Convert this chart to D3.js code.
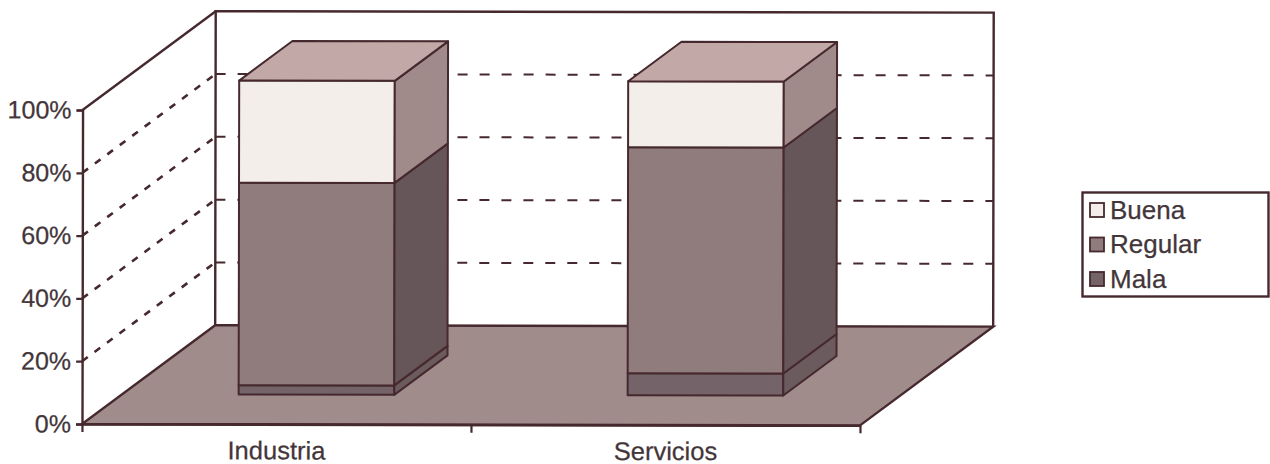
<!DOCTYPE html>
<html>
<head>
<meta charset="utf-8">
<script src="https://cdn.jsdelivr.net/npm/d3@7"></script>
<style>
  html, body { margin: 0; padding: 0; background: #fff; }
  svg { display: block; }
  text { font-family: "Liberation Sans", Arial, sans-serif; fill: #43363a; stroke: #43363a; stroke-width: 0.25px; }
</style>
</head>
<body>
<svg id="chart" width="1270" height="464"></svg>
<script>
const categories = ['Industria', 'Servicios'];
const seriesNames = ['Mala', 'Regular', 'Buena'];
const mala = [3, 7];
const regular = [64.5, 72];
const buena = [32.5, 21];
const yTicks = [0, 20, 40, 60, 80, 100];

const frontColors = { Mala: '#75636a', Regular: '#917c7d', Buena: '#f3eeea' };
const sideColors = { Mala: '#6b5a5e', Regular: '#665659', Buena: '#a08a8a' };
const topColor = '#c3a8a8';
const floorColor = '#a08c8b';
const lineColor = '#46292e';

const rows = categories.map((c, i) => ({ category: c, Mala: mala[i], Regular: regular[i], Buena: buena[i] }));
const stacked = d3.stack().keys(seriesNames)(rows);

const x = d3.scaleBand().domain(categories).range([82, 860]).paddingInner(0.6).paddingOuter(0.3);
const y = d3.scaleLinear().domain([0, 100]).range([424, 110]);
// depth axis: 0 is the front edge, 1 the back wall
const depthX = d3.scaleLinear().domain([0, 1]).range([0, 133]);
const depthY = d3.scaleLinear().domain([0, 1]).range([0, -99]);
const barDepth = [0.3, 0.7];

// px is already a screen x, v a percentage, z a depth
const project = (px, v, z) => [px + depthX(z), y(v) + depthY(z)];
const path = d3.line();

const svg = d3.select('#chart');
const plot = svg.append('g').attr('transform', 'rotate(0.1 82 424)');

const left = x.range()[0];
const right = x.range()[1];

// floor
plot.append('path')
  .attr('d', path([project(left, 0, 0), project(right, 0, 0), project(right, 0, 1), project(left, 0, 1)]) + 'Z')
  .attr('fill', floorColor)
  .attr('stroke', lineColor)
  .attr('stroke-width', 2.4);

// back wall and side wall outline
plot.append('path')
  .attr('d', path([project(left, 0, 1), project(left, 100, 1), project(right, 100, 1), project(right, 0, 1)]))
  .attr('fill', 'none')
  .attr('stroke', lineColor)
  .attr('stroke-width', 2.4);
plot.append('path')
  .attr('d', path([project(left, 100, 0), project(left, 100, 1)]))
  .attr('fill', 'none')
  .attr('stroke', lineColor)
  .attr('stroke-width', 2.4);

// grid lines
const gridTicks = yTicks.filter(d => d > 0 && d < 100);
plot.selectAll('.side-grid').data(gridTicks).join('path')
  .attr('class', 'side-grid')
  .attr('d', d => path([project(left, d, 0), project(left, d, 1)]))
  .attr('fill', 'none')
  .attr('stroke', lineColor)
  .attr('stroke-width', 2.6)
  .attr('stroke-dasharray', '7 8.5');
plot.selectAll('.back-grid').data(gridTicks).join('path')
  .attr('class', 'back-grid')
  .attr('d', d => path([project(left, d, 1), project(right, d, 1)]))
  .attr('fill', 'none')
  .attr('stroke', lineColor)
  .attr('stroke-width', 2)
  .attr('stroke-dasharray', '10 12');

// bars, bottom segment first
const bars = plot.append('g')
  .attr('stroke', lineColor)
  .attr('stroke-width', 2)
  .attr('stroke-linejoin', 'round');

stacked.forEach(layer => {
  layer.forEach(seg => {
    const cat = seg.data.category;
    const x0 = x(cat);
    const x1 = x0 + x.bandwidth();
    const [z0, z1] = barDepth;
    bars.append('path')
      .attr('d', path([project(x0, seg[0], z0), project(x1, seg[0], z0), project(x1, seg[1], z0), project(x0, seg[1], z0)]) + 'Z')
      .attr('fill', frontColors[layer.key]);
    bars.append('path')
      .attr('d', path([project(x1, seg[0], z0), project(x1, seg[0], z1), project(x1, seg[1], z1), project(x1, seg[1], z0)]) + 'Z')
      .attr('fill', sideColors[layer.key]);
    if (layer.key === 'Buena') {
      bars.append('path')
        .attr('d', path([project(x0, seg[1], z0), project(x1, seg[1], z0), project(x1, seg[1], z1), project(x0, seg[1], z1)]) + 'Z')
        .attr('fill', topColor);
    }
  });
});

// y axis
const yAxis = plot.append('g')
  .attr('transform', `translate(${left},0)`)
  .call(d3.axisLeft(y).tickValues(yTicks).tickFormat(d => d + '%').tickSize(6).tickPadding(5));
yAxis.select('.domain').attr('stroke', lineColor).attr('stroke-width', 2.4);
yAxis.selectAll('.tick line').attr('stroke', lineColor).attr('stroke-width', 2.2);
yAxis.selectAll('text').attr('font-size', 25);

// x axis: ticks sit on the category boundaries, labels between them
const xEdges = d3.scaleLinear().domain([0, categories.length]).range(x.range());
const xAxis = plot.append('g')
  .attr('transform', `translate(0,${y(0)})`)
  .call(d3.axisBottom(xEdges).tickValues(d3.range(categories.length + 1)).tickFormat('').tickSize(8).tickSizeOuter(0));
xAxis.select('.domain').attr('stroke', lineColor).attr('stroke-width', 2.4);
xAxis.selectAll('.tick line').attr('stroke', lineColor).attr('stroke-width', 2.2);

plot.selectAll('.cat-label').data(categories).join('text')
  .attr('class', 'cat-label')
  .attr('x', d => x(d) + x.bandwidth() / 2)
  .attr('y', 459)
  .attr('text-anchor', 'middle')
  .attr('font-size', 25.5)
  .text(d => d);

// legend
const legendItems = seriesNames.slice().reverse();
const legendY = d3.scalePoint().domain(legendItems).range([210, 279]);
svg.append('rect')
  .attr('x', 1082.5).attr('y', 192.5).attr('width', 186).attr('height', 104)
  .attr('fill', '#fff').attr('stroke', lineColor).attr('stroke-width', 2.4);
const legend = svg.selectAll('.legend-item').data(legendItems).join('g')
  .attr('class', 'legend-item')
  .attr('transform', d => `translate(1090,${legendY(d)})`);
legend.append('rect')
  .attr('y', -7).attr('width', 14).attr('height', 14)
  .attr('fill', d => frontColors[d])
  .attr('stroke', lineColor).attr('stroke-width', 1.8);
legend.append('text')
  .attr('x', 20).attr('y', 8.5)
  .attr('font-size', 26)
  .text(d => d);
</script>
</body>
</html>
